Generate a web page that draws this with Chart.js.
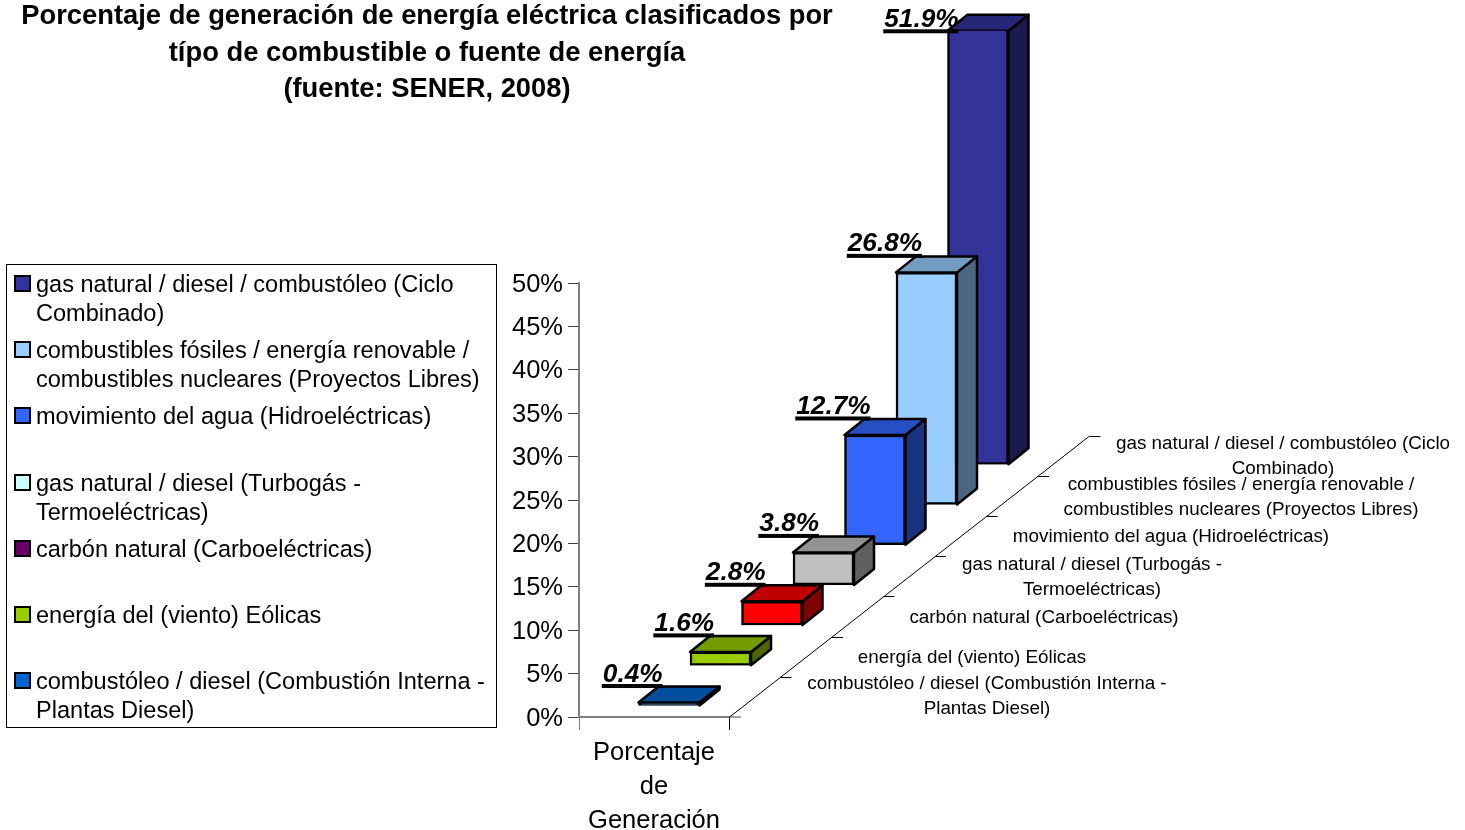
<!DOCTYPE html>
<html>
<head>
<meta charset="utf-8">
<title>Porcentaje de generación</title>
<script src="https://cdn.jsdelivr.net/npm/chart.js@4"></script>
<style>
  html, body { margin: 0; padding: 0; background: #fff; }
  canvas { display: block; }
</style>
</head>
<body>
<canvas id="myChart" width="1465" height="830"></canvas>
<script>
const titleLines = [
  "Porcentaje de generación de energía eléctrica clasificados por",
  "típo de combustible o fuente de energía",
  "(fuente: SENER, 2008)",
];
const xLabel = ["Porcentaje", "de", "Generación"];
// back row first, same order as the legend
const categories = [
  ["gas natural / diesel / combustóleo (Ciclo", "Combinado)"],
  ["combustibles fósiles / energía renovable /", "combustibles nucleares (Proyectos Libres)"],
  ["movimiento del agua (Hidroeléctricas)"],
  ["gas natural / diesel (Turbogás -", "Termoeléctricas)"],
  ["carbón natural (Carboeléctricas)"],
  ["energía del (viento) Eólicas"],
  ["combustóleo / diesel (Combustión Interna -", "Plantas Diesel)"],
];
const values = [51.9, 26.8, 12.7, 3.8, 2.8, 1.6, 0.4];
const barColors = ["#333399", "#99CCFF", "#3366FF", "#C0C0C0", "#FF0000", "#99CC00", "#0066CC"];
const topColors = ["#27277A", "#749BC2", "#274EC2", "#929292", "#C00000", "#749B00", "#004E9B"];
const sideColors = ["#1A1A4D", "#4D6680", "#1A3380", "#606060", "#800000", "#4D6600", "#003366"];
const legendColors = ["#333399", "#99CCFF", "#3366FF", "#CCFFFF", "#660066", "#99CC00", "#0066CC"];

const FONT = '"Liberation Sans", Arial, sans-serif';
const STEP_X = 51.5, STEP_Y = 40.2; // one row further back
const FRONT_X = 15, FRONT_Y = 11;   // front row, from the floor corner
const DEPTH_X = 20, DEPTH_Y = 16;   // thickness of a bar
const legendTops = [275, 341, 407, 474, 540, 606, 672];
const depthCenters = [1283, 1241, 1171, 1092, 1044, 972, 987];
const depthBaselines = [449, 490, 542, 570, 623, 663, 689];

function rowOffset(i) {
  const row = values.length - 1 - i;
  return { x: FRONT_X + row * STEP_X, y: FRONT_Y + row * STEP_Y };
}

function polygon(ctx, pts, fill) {
  ctx.beginPath();
  pts.forEach(function (p, n) {
    if (n == 0) ctx.moveTo(p[0], p[1]);
    else ctx.lineTo(p[0], p[1]);
  });
  ctx.closePath();
  ctx.fillStyle = fill;
  ctx.fill();
  ctx.stroke();
}

const bars3d = {
  id: "bars3d",
  // y tick labels sit a little lower than the library centres them
  beforeDraw(chart) {
    chart.scales.y.getLabelItems().forEach(function (item) {
      if (!item.moved) {
        item.options.translation[1] += 1.5;
        item.moved = true;
      }
    });
  },
  // shift the whole row back, the library then draws the front face and clips it
  beforeDatasetDraw(chart, args) {
    const ctx = chart.ctx;
    const i = args.index;
    const off = rowOffset(i);
    const el = args.meta.data[0];
    const top = Math.max(el.y, chart.chartArea.top);
    const l = el.x - el.width / 2, r = el.x + el.width / 2;
    ctx.save();
    ctx.translate(off.x, -off.y);
    ctx.strokeStyle = "#000";
    ctx.lineWidth = 2.5;
    ctx.lineJoin = "round";
    polygon(ctx, [[r, top], [r + DEPTH_X, top - DEPTH_Y], [r + DEPTH_X, el.base - DEPTH_Y], [r, el.base]], sideColors[i]);
    polygon(ctx, [[l, top], [l + DEPTH_X, top - DEPTH_Y], [r + DEPTH_X, top - DEPTH_Y], [r, top]], topColors[i]);
  },
  afterDatasetDraw(chart) {
    chart.ctx.restore();
  },
  afterDatasetsDraw(chart) {
    const ctx = chart.ctx;
    ctx.save();
    ctx.fillStyle = "#000";
    ctx.font = "italic bold 26.2px " + FONT;
    values.forEach(function (v, i) {
      const el = chart.getDatasetMeta(i).data[0];
      const off = rowOffset(i);
      const clipped = el.y < chart.chartArea.top;
      const top = Math.max(el.y, chart.chartArea.top) - off.y;
      const lineY = clipped ? top + 1 : top - DEPTH_Y;
      const right = el.x - el.width / 2 + off.x + (clipped ? 11 : v < 3 ? 24 : 26);
      const text = v.toFixed(1) + "%";
      const w = ctx.measureText(text).width;
      ctx.fillText(text, right - w, lineY - 5);
      ctx.fillRect(right - w - 1, lineY - 2.5, w + 1, 4);
    });
    ctx.restore();
  },
  afterDraw(chart) {
    const ctx = chart.ctx;
    const x0 = chart.chartArea.right, y0 = chart.chartArea.bottom;
    ctx.save();
    // floor edge and depth axis
    ctx.strokeStyle = "#808080";
    ctx.lineWidth = 1.5;
    ctx.beginPath();
    ctx.moveTo(x0, y0);
    ctx.lineTo(x0 + 12, y0);
    ctx.stroke();
    ctx.strokeStyle = "#000";
    ctx.lineWidth = 1;
    ctx.beginPath();
    ctx.moveTo(x0, y0 + 0.5);
    ctx.lineTo(x0 + 7 * STEP_X, y0 - 7 * STEP_Y + 0.5);
    for (let k = 1; k <= 7; k++) {
      const tx = x0 + k * STEP_X, ty = Math.round(y0 - k * STEP_Y) + 0.5;
      ctx.moveTo(tx, ty);
      ctx.lineTo(tx + 11, ty);
    }
    ctx.stroke();
    // depth axis labels
    ctx.fillStyle = "#000";
    ctx.font = "18.85px " + FONT;
    ctx.textAlign = "center";
    categories.forEach(function (lines, i) {
      lines.forEach(function (line, n) {
        ctx.fillText(line, depthCenters[i], depthBaselines[i] + n * 25);
      });
    });
    // title
    ctx.font = "bold 27.35px " + FONT;
    titleLines.forEach(function (line, n) {
      ctx.fillText(line, 427, 24 + n * 36.5);
    });
    // legend
    ctx.textAlign = "left";
    ctx.strokeStyle = "#000";
    ctx.lineWidth = 1;
    ctx.strokeRect(6.5, 264.5, 490, 463);
    ctx.font = "23.55px " + FONT;
    categories.forEach(function (lines, i) {
      ctx.fillStyle = legendColors[i];
      ctx.lineWidth = 2;
      ctx.fillRect(15, legendTops[i] + 1, 15, 15);
      ctx.strokeRect(15, legendTops[i] + 1, 15, 15);
      ctx.fillStyle = "#000";
      lines.forEach(function (line, n) {
        ctx.fillText(line, 36, legendTops[i] + 17 + n * 29);
      });
    });
    ctx.restore();
  },
};

new Chart(document.getElementById("myChart"), {
  type: "bar",
  data: {
    labels: [xLabel],
    datasets: values.map(function (v, i) {
      return {
        label: categories[i].join(" "),
        data: [v],
        backgroundColor: barColors[i],
        borderColor: "#000",
        borderWidth: 2.5,
        borderSkipped: false,
        barThickness: 61,
        grouped: false,
        order: values.length - i, // back row drawn first
      };
    }),
  },
  options: {
    responsive: false,
    animation: false,
    layout: { padding: { left: 0, top: 283, right: 736, bottom: 0 } },
    plugins: { legend: { display: false }, title: { display: false }, tooltip: { enabled: false } },
    scales: {
      x: {
        afterFit: function (scale) { scale.height = 113; },
        border: { color: "#808080", width: 2 },
        grid: { offset: true, drawOnChartArea: false, tickLength: 13, tickColor: ["#808080", "#000"] },
        ticks: { color: "#000", padding: 6, maxRotation: 0, font: { family: FONT, size: 25.5, lineHeight: 1.34 } },
      },
      y: {
        min: 0,
        max: 50,
        afterFit: function (scale) { scale.width = 579; },
        border: { color: "#808080", width: 2 },
        grid: { drawOnChartArea: false, tickLength: 11, tickColor: "#404040" },
        ticks: {
          stepSize: 5,
          color: "#000",
          padding: 5,
          font: { family: FONT, size: 25.5 },
          callback: function (v) { return v + "%"; },
        },
      },
    },
  },
  plugins: [bars3d],
});
</script>
</body>
</html>
